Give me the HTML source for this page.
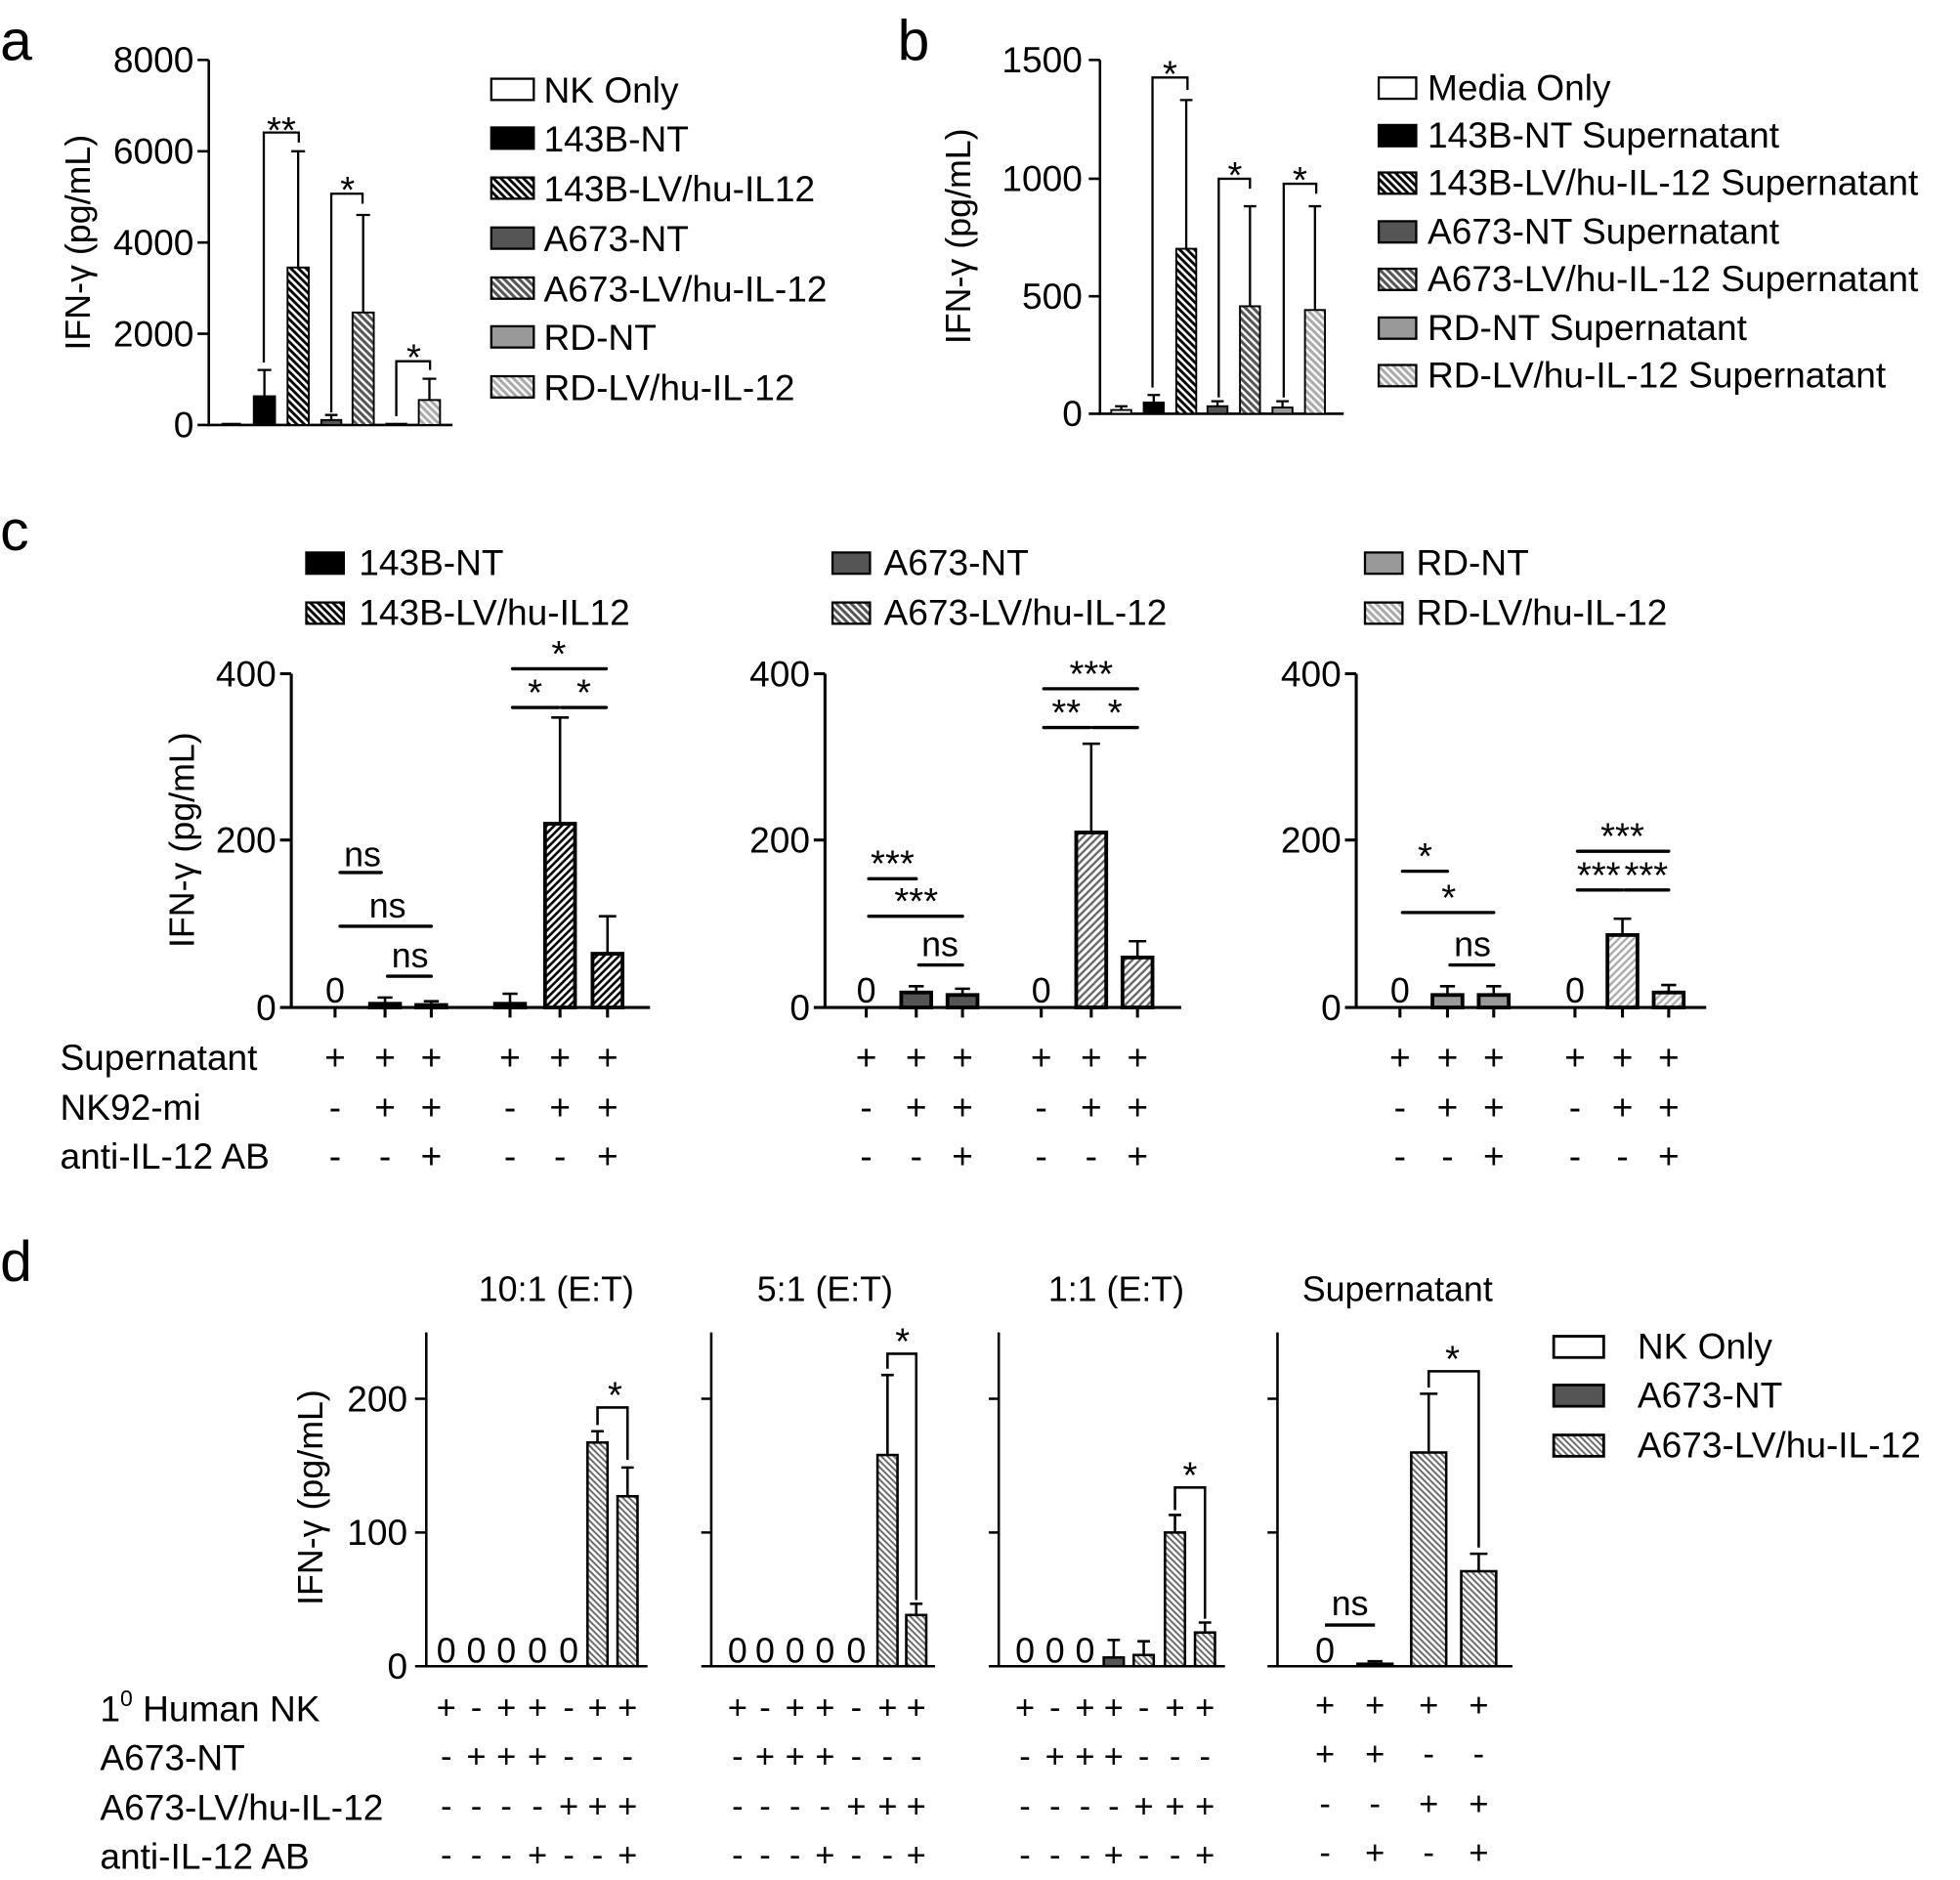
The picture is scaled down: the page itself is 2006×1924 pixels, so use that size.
<!DOCTYPE html>
<html><head><meta charset="utf-8"><style>
html,body{margin:0;padding:0;background:#fff}
svg{display:block}
text{font-family:"Liberation Sans",sans-serif;fill:#000}
.st{font-size:30px}
</style></head><body>
<svg width="2006" height="1924" viewBox="0 0 1568 1504" xmlns="http://www.w3.org/2000/svg">
<defs>
<pattern id="hB" patternUnits="userSpaceOnUse" width="6" height="6"><rect width="6" height="6" fill="#fff"/><path d="M0,0L6,6M-1,5L1,7M5,-1L7,1" stroke="#000" stroke-width="2.2"/></pattern>
<pattern id="hD" patternUnits="userSpaceOnUse" width="6" height="6"><rect width="6" height="6" fill="#fff"/><path d="M0,0L6,6M-1,5L1,7M5,-1L7,1" stroke="#555" stroke-width="2.4"/></pattern>
<pattern id="hL" patternUnits="userSpaceOnUse" width="6" height="6"><rect width="6" height="6" fill="#fff"/><path d="M0,0L6,6M-1,5L1,7M5,-1L7,1" stroke="#aaa" stroke-width="2.4"/></pattern>
<pattern id="cB" patternUnits="userSpaceOnUse" width="6" height="6"><rect width="6" height="6" fill="#fff"/><path d="M0,6L6,0M-1,1L1,-1M5,7L7,5" stroke="#000" stroke-width="2"/></pattern>
<pattern id="cD" patternUnits="userSpaceOnUse" width="6" height="6"><rect width="6" height="6" fill="#fff"/><path d="M0,6L6,0M-1,1L1,-1M5,7L7,5" stroke="#666" stroke-width="1.8"/></pattern>
<pattern id="cL" patternUnits="userSpaceOnUse" width="6" height="6"><rect width="6" height="6" fill="#fff"/><path d="M0,6L6,0M-1,1L1,-1M5,7L7,5" stroke="#aaa" stroke-width="1.8"/></pattern>
<pattern id="dD" patternUnits="userSpaceOnUse" width="5" height="5"><rect width="5" height="5" fill="#fff"/><path d="M0,0L5,5M-1,4L1,6M4,-1L6,1" stroke="#666" stroke-width="1.5"/></pattern>
</defs>

<g font-size="46">
<text x="0" y="48">a</text><text x="718" y="48">b</text><text x="0" y="440">c</text><text x="0" y="1025">d</text>
</g>

<!-- PANEL A -->
<g stroke="#000" stroke-width="2" fill="none">
<path d="M167,48V340H362"/>
<path d="M158,48H167M158,121H167M158,194H167M158,267H167M158,340H167"/>
</g>
<g font-size="29" text-anchor="end">
<text x="155" y="58">8000</text><text x="155" y="131">6000</text><text x="155" y="204">4000</text><text x="155" y="277">2000</text><text x="155" y="350">0</text>
</g>
<text font-size="28" transform="translate(72,194) rotate(-90)" text-anchor="middle">IFN-γ (pg/mL)</text>
<g stroke="#000" stroke-width="1.5">
<rect x="178" y="339" width="14" height="1" fill="#fff"/>
<rect x="203" y="317" width="17" height="23" fill="#000"/>
<rect x="230" y="214" width="17" height="126" fill="url(#hB)"/>
<rect x="257" y="336" width="16" height="4" fill="#555"/>
<rect x="282" y="250" width="17" height="90" fill="url(#hD)"/>
<rect x="309" y="339" width="16" height="1" fill="#999"/>
<rect x="335" y="320" width="17" height="20" fill="url(#hL)"/>
</g>
<g stroke="#000" stroke-width="1.8" fill="none">
<path d="M211.5,317V296M206,296H217"/>
<path d="M238.5,214V121M233,121H244"/>
<path d="M265,336V332M260,332H270"/>
<path d="M290.5,250V172M285,172H296"/>
<path d="M343.5,320V303M338,303H349"/>
<path d="M211,290V106H239V114"/>
<path d="M265,330V155H290V163"/>
<path d="M317,333V289H344V296"/>
</g>
<g class="st" text-anchor="middle">
<text x="225" y="114">**</text><text x="278" y="162">*</text><text x="331" y="296">*</text>
</g>
<g stroke="#000" stroke-width="1.8">
<rect x="393" y="63" width="34" height="17" fill="#fff"/>
<rect x="393" y="102" width="34" height="17" fill="#000"/>
<rect x="393" y="142" width="34" height="17" fill="url(#hB)"/>
<rect x="393" y="182" width="34" height="17" fill="#555"/>
<rect x="393" y="222" width="34" height="17" fill="url(#hD)"/>
<rect x="393" y="261" width="34" height="17" fill="#999"/>
<rect x="393" y="301" width="34" height="17" fill="url(#hL)"/>
</g>
<g font-size="29">
<text x="435" y="82">NK Only</text><text x="435" y="121">143B-NT</text><text x="435" y="161">143B-LV/hu-IL12</text><text x="435" y="201">A673-NT</text><text x="435" y="241">A673-LV/hu-IL-12</text><text x="435" y="280">RD-NT</text><text x="435" y="320">RD-LV/hu-IL-12</text>
</g>

<!-- PANEL B -->
<g stroke="#000" stroke-width="2" fill="none">
<path d="M880,48V331H1075"/>
<path d="M871,48H880M871,143H880M871,237H880M871,331H880"/>
</g>
<g font-size="29" text-anchor="end">
<text x="866" y="58">1500</text><text x="866" y="153">1000</text><text x="866" y="247">500</text><text x="866" y="341">0</text>
</g>
<text font-size="28" transform="translate(776,189) rotate(-90)" text-anchor="middle">IFN-γ (pg/mL)</text>
<g stroke="#000" stroke-width="1.5">
<rect x="889" y="328" width="16" height="3" fill="#fff"/>
<rect x="915" y="322" width="16" height="9" fill="#000"/>
<rect x="941" y="199" width="16" height="132" fill="url(#hB)"/>
<rect x="966" y="325" width="16" height="6" fill="#555"/>
<rect x="992" y="245" width="16" height="86" fill="url(#hD)"/>
<rect x="1018" y="326" width="16" height="5" fill="#999"/>
<rect x="1044" y="248" width="16" height="83" fill="url(#hL)"/>
</g>
<g stroke="#000" stroke-width="1.8" fill="none">
<path d="M897,328V325M892,325H902"/>
<path d="M923,322V316M918,316H928"/>
<path d="M949,199V80M944,80H954"/>
<path d="M974,325V321M969,321H979"/>
<path d="M1000,245V165M995,165H1005"/>
<path d="M1026,326V321M1021,321H1031"/>
<path d="M1052,248V165M1047,165H1057"/>
<path d="M922,310V62H950V72"/>
<path d="M975,318V143H1000V151"/>
<path d="M1027,318V147H1053V155"/>
</g>
<g class="st" text-anchor="middle">
<text x="936" y="69">*</text><text x="988" y="150">*</text><text x="1040" y="154">*</text>
</g>
<g stroke="#000" stroke-width="1.8">
<rect x="1103" y="62" width="30" height="17" fill="#fff"/>
<rect x="1103" y="100" width="30" height="17" fill="#000"/>
<rect x="1103" y="138" width="30" height="17" fill="url(#hB)"/>
<rect x="1103" y="177" width="30" height="17" fill="#555"/>
<rect x="1103" y="215" width="30" height="17" fill="url(#hD)"/>
<rect x="1103" y="254" width="30" height="17" fill="#999"/>
<rect x="1103" y="292" width="30" height="17" fill="url(#hL)"/>
</g>
<g font-size="29">
<text x="1142" y="80">Media Only</text><text x="1142" y="118">143B-NT Supernatant</text><text x="1142" y="156">143B-LV/hu-IL-12 Supernatant</text><text x="1142" y="195">A673-NT Supernatant</text><text x="1142" y="233">A673-LV/hu-IL-12 Supernatant</text><text x="1142" y="272">RD-NT Supernatant</text><text x="1142" y="310">RD-LV/hu-IL-12 Supernatant</text>
</g>

<!-- PANEL C legends -->
<g stroke="#000" stroke-width="1.8">
<rect x="245" y="442" width="30" height="17" fill="#000"/>
<rect x="245" y="482" width="30" height="17" fill="url(#hB)"/>
<rect x="666" y="442" width="30" height="17" fill="#555"/>
<rect x="666" y="482" width="30" height="17" fill="url(#hD)"/>
<rect x="1092" y="442" width="30" height="17" fill="#999"/>
<rect x="1092" y="482" width="30" height="17" fill="url(#hL)"/>
</g>
<g font-size="29">
<text x="287" y="460">143B-NT</text><text x="287" y="500">143B-LV/hu-IL12</text>
<text x="707" y="460">A673-NT</text><text x="707" y="500">A673-LV/hu-IL-12</text>
<text x="1133" y="460">RD-NT</text><text x="1133" y="500">RD-LV/hu-IL-12</text>
</g>
<text font-size="28" transform="translate(155,672) rotate(-90)" text-anchor="middle">IFN-γ (pg/mL)</text>
<g font-size="29">
<text x="48" y="856">Supernatant</text><text x="48" y="896">NK92-mi</text><text x="48" y="935">anti-IL-12 AB</text>
</g>
<g stroke="#000" stroke-width="2.4" fill="none">
<path d="M233,539V806H520M224,539H233M224,672H233M224,806H233"/>
<path d="M660,539V806H945M651,539H660M651,672H660M651,806H660"/>
<path d="M1085,539V806H1365M1076,539H1085M1076,672H1085M1076,806H1085"/>
<path d="M268,806V814M308,806V814M345,806V814M408,806V814M448,806V814M486,806V814"/>
<path d="M693,806V814M733,806V814M770,806V814M833,806V814M873,806V814M910,806V814"/>
<path d="M1120,806V814M1158,806V814M1195,806V814M1260,806V814M1298,806V814M1335,806V814"/>
</g>
<g font-size="29" text-anchor="end">
<text x="221" y="549">400</text><text x="221" y="682">200</text><text x="221" y="816">0</text>
<text x="648" y="549">400</text><text x="648" y="682">200</text><text x="648" y="816">0</text>
<text x="1073" y="549">400</text><text x="1073" y="682">200</text><text x="1073" y="816">0</text>
</g>
<g font-size="28" text-anchor="middle">
<text x="268" y="802">0</text><text x="693" y="802">0</text><text x="833" y="802">0</text><text x="1120" y="802">0</text><text x="1260" y="802">0</text>
</g>
<g stroke="#000" stroke-width="3">
<rect x="296" y="803" width="24" height="3" fill="#000"/>
<rect x="333" y="804" width="24" height="2" fill="url(#cB)"/>
<rect x="396" y="803" width="24" height="3" fill="#fff"/>
<rect x="436" y="659" width="24" height="147" fill="url(#cB)"/>
<rect x="474" y="763" width="24" height="43" fill="url(#cB)"/>
<rect x="721" y="794" width="24" height="12" fill="#555"/>
<rect x="758" y="796" width="24" height="10" fill="#555"/>
<rect x="861" y="666" width="24" height="140" fill="url(#cD)"/>
<rect x="898" y="766" width="24" height="40" fill="url(#cD)"/>
<rect x="1146" y="796" width="24" height="10" fill="#999"/>
<rect x="1183" y="796" width="24" height="10" fill="#999"/>
<rect x="1286" y="748" width="24" height="58" fill="url(#cL)"/>
<rect x="1323" y="794" width="24" height="12" fill="url(#cL)"/>
</g>
<g stroke="#000" stroke-width="2" fill="none">
<path d="M308,803V798M302,798H314M345,804V801M339,801H351M408,803V795M402,795H414M448,659V574M441,574H455M486,763V733M479,733H493"/>
<path d="M733,794V789M727,789H739M770,796V791M764,791H776M873,666V595M866,595H880M910,766V753M903,753H917"/>
<path d="M1158,796V789M1152,789H1164M1195,796V789M1189,789H1201M1298,748V735M1291,735H1305M1335,794V788M1329,788H1341"/>
</g>
<g stroke="#000" stroke-width="2.6" fill="none" stroke-linecap="round">
<path d="M272,698H305M272,741H345M310,781H345M410,535H485M410,566H447M449,566H485"/>
<path d="M695,703H733M695,733H770M735,772H770M835,551H910M835,582H872M874,582H910"/>
<path d="M1122,697H1158M1122,730H1195M1160,772H1195M1262,681H1335M1262,712H1298M1300,712H1335"/>
</g>
<g font-size="28" text-anchor="middle">
<text x="290" y="693">ns</text><text x="310" y="734">ns</text><text x="328" y="774">ns</text>
<text x="752" y="765">ns</text><text x="1178" y="765">ns</text>
</g>
<g class="st" text-anchor="middle">
<text x="447" y="533">*</text><text x="428" y="564">*</text><text x="467" y="564">*</text>
<text x="714" y="701">***</text><text x="733" y="731">***</text>
<text x="873" y="549">***</text><text x="853" y="580">**</text><text x="892" y="580">*</text>
<text x="1140" y="695">*</text><text x="1159" y="728">*</text>
<text x="1298" y="679">***</text><text x="1279" y="710">***</text><text x="1317" y="710">***</text>
</g>
<g font-size="29" text-anchor="middle">
<text x="268" y="856">+</text><text x="308" y="856">+</text><text x="345" y="856">+</text><text x="408" y="856">+</text><text x="448" y="856">+</text><text x="486" y="856">+</text>
<text x="268" y="896">-</text><text x="308" y="896">+</text><text x="345" y="896">+</text><text x="408" y="896">-</text><text x="448" y="896">+</text><text x="486" y="896">+</text>
<text x="268" y="935">-</text><text x="308" y="935">-</text><text x="345" y="935">+</text><text x="408" y="935">-</text><text x="448" y="935">-</text><text x="486" y="935">+</text>
<text x="693" y="856">+</text><text x="733" y="856">+</text><text x="770" y="856">+</text><text x="833" y="856">+</text><text x="873" y="856">+</text><text x="910" y="856">+</text>
<text x="693" y="896">-</text><text x="733" y="896">+</text><text x="770" y="896">+</text><text x="833" y="896">-</text><text x="873" y="896">+</text><text x="910" y="896">+</text>
<text x="693" y="935">-</text><text x="733" y="935">-</text><text x="770" y="935">+</text><text x="833" y="935">-</text><text x="873" y="935">-</text><text x="910" y="935">+</text>
<text x="1120" y="856">+</text><text x="1158" y="856">+</text><text x="1195" y="856">+</text><text x="1260" y="856">+</text><text x="1298" y="856">+</text><text x="1335" y="856">+</text>
<text x="1120" y="896">-</text><text x="1158" y="896">+</text><text x="1195" y="896">+</text><text x="1260" y="896">-</text><text x="1298" y="896">+</text><text x="1335" y="896">+</text>
<text x="1120" y="935">-</text><text x="1158" y="935">-</text><text x="1195" y="935">+</text><text x="1260" y="935">-</text><text x="1298" y="935">-</text><text x="1335" y="935">+</text>
</g>

<!-- PANEL D -->
<g font-size="28" text-anchor="middle">
<text x="445" y="1041">10:1 (E:T)</text><text x="660" y="1041">5:1 (E:T)</text><text x="893" y="1041">1:1 (E:T)</text><text x="1118" y="1041">Supernatant</text>
</g>
<text font-size="28" transform="translate(258,1198) rotate(-90)" text-anchor="middle">IFN-γ (pg/mL)</text>
<g stroke="#000" stroke-width="2" fill="none">
<path d="M341,1066V1333H518M332,1119H341M332,1226H341M332,1333H341"/>
<path d="M569,1066V1333H748M561,1119H569M561,1226H569M561,1333H569"/>
<path d="M799,1066V1333H980M791,1119H799M791,1226H799M791,1333H799"/>
<path d="M1022,1066V1333H1210M1014,1119H1022M1014,1226H1022M1014,1333H1022"/>
</g>
<g font-size="29" text-anchor="end">
<text x="326" y="1129">200</text><text x="326" y="1236">100</text><text x="326" y="1343">0</text>
</g>
<g font-size="28" text-anchor="middle">
<text x="357" y="1330">0</text><text x="381" y="1330">0</text><text x="405" y="1330">0</text><text x="430" y="1330">0</text><text x="455" y="1330">0</text>
<text x="590" y="1330">0</text><text x="612" y="1330">0</text><text x="636" y="1330">0</text><text x="660" y="1330">0</text><text x="685" y="1330">0</text>
<text x="820" y="1330">0</text><text x="844" y="1330">0</text><text x="868" y="1330">0</text>
<text x="1060" y="1330">0</text>
</g>
<g stroke="#000" stroke-width="2">
<rect x="470" y="1154" width="16" height="179" fill="url(#dD)"/>
<rect x="494" y="1197" width="16" height="136" fill="url(#dD)"/>
<rect x="702" y="1164" width="16" height="169" fill="url(#dD)"/>
<rect x="725" y="1292" width="16" height="41" fill="url(#dD)"/>
<rect x="883" y="1326" width="16" height="7" fill="#555"/>
<rect x="907" y="1324" width="16" height="9" fill="url(#dD)"/>
<rect x="932" y="1226" width="16" height="107" fill="url(#dD)"/>
<rect x="956" y="1306" width="16" height="27" fill="url(#dD)"/>
<rect x="1086" y="1331" width="28" height="2" fill="#555"/>
<rect x="1129" y="1162" width="28" height="171" fill="url(#dD)"/>
<rect x="1169" y="1257" width="28" height="76" fill="url(#dD)"/>
</g>
<g stroke="#000" stroke-width="2" fill="none">
<path d="M478,1154V1145M473,1145H483M502,1197V1174M497,1174H507"/>
<path d="M710,1164V1100M705,1100H715M733,1292V1283M728,1283H738"/>
<path d="M891,1326V1312M886,1312H896M915,1324V1313M910,1313H920M940,1226V1212M935,1212H945M964,1306V1298M959,1298H969"/>
<path d="M1100,1331V1329M1094,1329H1106M1143,1162V1115M1136,1115H1150M1183,1257V1243M1176,1243H1190"/>
<path d="M478,1140V1126H502V1168"/>
<path d="M710,1095V1083H733V1280"/>
<path d="M940,1208V1190H964V1295"/>
<path d="M1143,1110V1097H1183V1238"/>
<path d="M1060,1300H1100" stroke-width="2.6"/>
</g>
<g class="st" text-anchor="middle">
<text x="492" y="1126">*</text><text x="722" y="1083">*</text><text x="952" y="1190">*</text><text x="1162" y="1097">*</text>
</g>
<text font-size="28" x="1080" y="1292" text-anchor="middle">ns</text>
<g stroke="#000" stroke-width="2.2">
<rect x="1243" y="1069" width="40" height="17" fill="#fff"/>
<rect x="1243" y="1108" width="40" height="17" fill="#555"/>
<rect x="1243" y="1148" width="40" height="17" fill="url(#dD)"/>
</g>
<g font-size="29">
<text x="1310" y="1087">NK Only</text><text x="1310" y="1126">A673-NT</text><text x="1310" y="1166">A673-LV/hu-IL-12</text>
</g>
<g font-size="29">
<text x="80" y="1377">1<tspan font-size="18" dy="-12">0</tspan><tspan dy="12"> Human NK</tspan></text>
<text x="80" y="1416">A673-NT</text><text x="80" y="1456">A673-LV/hu-IL-12</text><text x="80" y="1495">anti-IL-12 AB</text>
</g>
<g font-size="27" text-anchor="middle">
<text x="357" y="1375">+</text><text x="381" y="1375">-</text><text x="405" y="1375">+</text><text x="430" y="1375">+</text><text x="455" y="1375">-</text><text x="478" y="1375">+</text><text x="502" y="1375">+</text>
<text x="357" y="1414">-</text><text x="381" y="1414">+</text><text x="405" y="1414">+</text><text x="430" y="1414">+</text><text x="455" y="1414">-</text><text x="478" y="1414">-</text><text x="502" y="1414">-</text>
<text x="357" y="1454">-</text><text x="381" y="1454">-</text><text x="405" y="1454">-</text><text x="430" y="1454">-</text><text x="455" y="1454">+</text><text x="478" y="1454">+</text><text x="502" y="1454">+</text>
<text x="357" y="1493">-</text><text x="381" y="1493">-</text><text x="405" y="1493">-</text><text x="430" y="1493">+</text><text x="455" y="1493">-</text><text x="478" y="1493">-</text><text x="502" y="1493">+</text>
<text x="590" y="1375">+</text><text x="612" y="1375">-</text><text x="636" y="1375">+</text><text x="660" y="1375">+</text><text x="685" y="1375">-</text><text x="710" y="1375">+</text><text x="733" y="1375">+</text>
<text x="590" y="1414">-</text><text x="612" y="1414">+</text><text x="636" y="1414">+</text><text x="660" y="1414">+</text><text x="685" y="1414">-</text><text x="710" y="1414">-</text><text x="733" y="1414">-</text>
<text x="590" y="1454">-</text><text x="612" y="1454">-</text><text x="636" y="1454">-</text><text x="660" y="1454">-</text><text x="685" y="1454">+</text><text x="710" y="1454">+</text><text x="733" y="1454">+</text>
<text x="590" y="1493">-</text><text x="612" y="1493">-</text><text x="636" y="1493">-</text><text x="660" y="1493">+</text><text x="685" y="1493">-</text><text x="710" y="1493">-</text><text x="733" y="1493">+</text>
<text x="820" y="1375">+</text><text x="844" y="1375">-</text><text x="868" y="1375">+</text><text x="891" y="1375">+</text><text x="915" y="1375">-</text><text x="940" y="1375">+</text><text x="964" y="1375">+</text>
<text x="820" y="1414">-</text><text x="844" y="1414">+</text><text x="868" y="1414">+</text><text x="891" y="1414">+</text><text x="915" y="1414">-</text><text x="940" y="1414">-</text><text x="964" y="1414">-</text>
<text x="820" y="1454">-</text><text x="844" y="1454">-</text><text x="868" y="1454">-</text><text x="891" y="1454">-</text><text x="915" y="1454">+</text><text x="940" y="1454">+</text><text x="964" y="1454">+</text>
<text x="820" y="1493">-</text><text x="844" y="1493">-</text><text x="868" y="1493">-</text><text x="891" y="1493">+</text><text x="915" y="1493">-</text><text x="940" y="1493">-</text><text x="964" y="1493">+</text>
<text x="1060" y="1373">+</text><text x="1100" y="1373">+</text><text x="1143" y="1373">+</text><text x="1183" y="1373">+</text>
<text x="1060" y="1412">+</text><text x="1100" y="1412">+</text><text x="1143" y="1412">-</text><text x="1183" y="1412">-</text>
<text x="1060" y="1452">-</text><text x="1100" y="1452">-</text><text x="1143" y="1452">+</text><text x="1183" y="1452">+</text>
<text x="1060" y="1491">-</text><text x="1100" y="1491">+</text><text x="1143" y="1491">-</text><text x="1183" y="1491">+</text>
</g>
</svg>
</body></html>
